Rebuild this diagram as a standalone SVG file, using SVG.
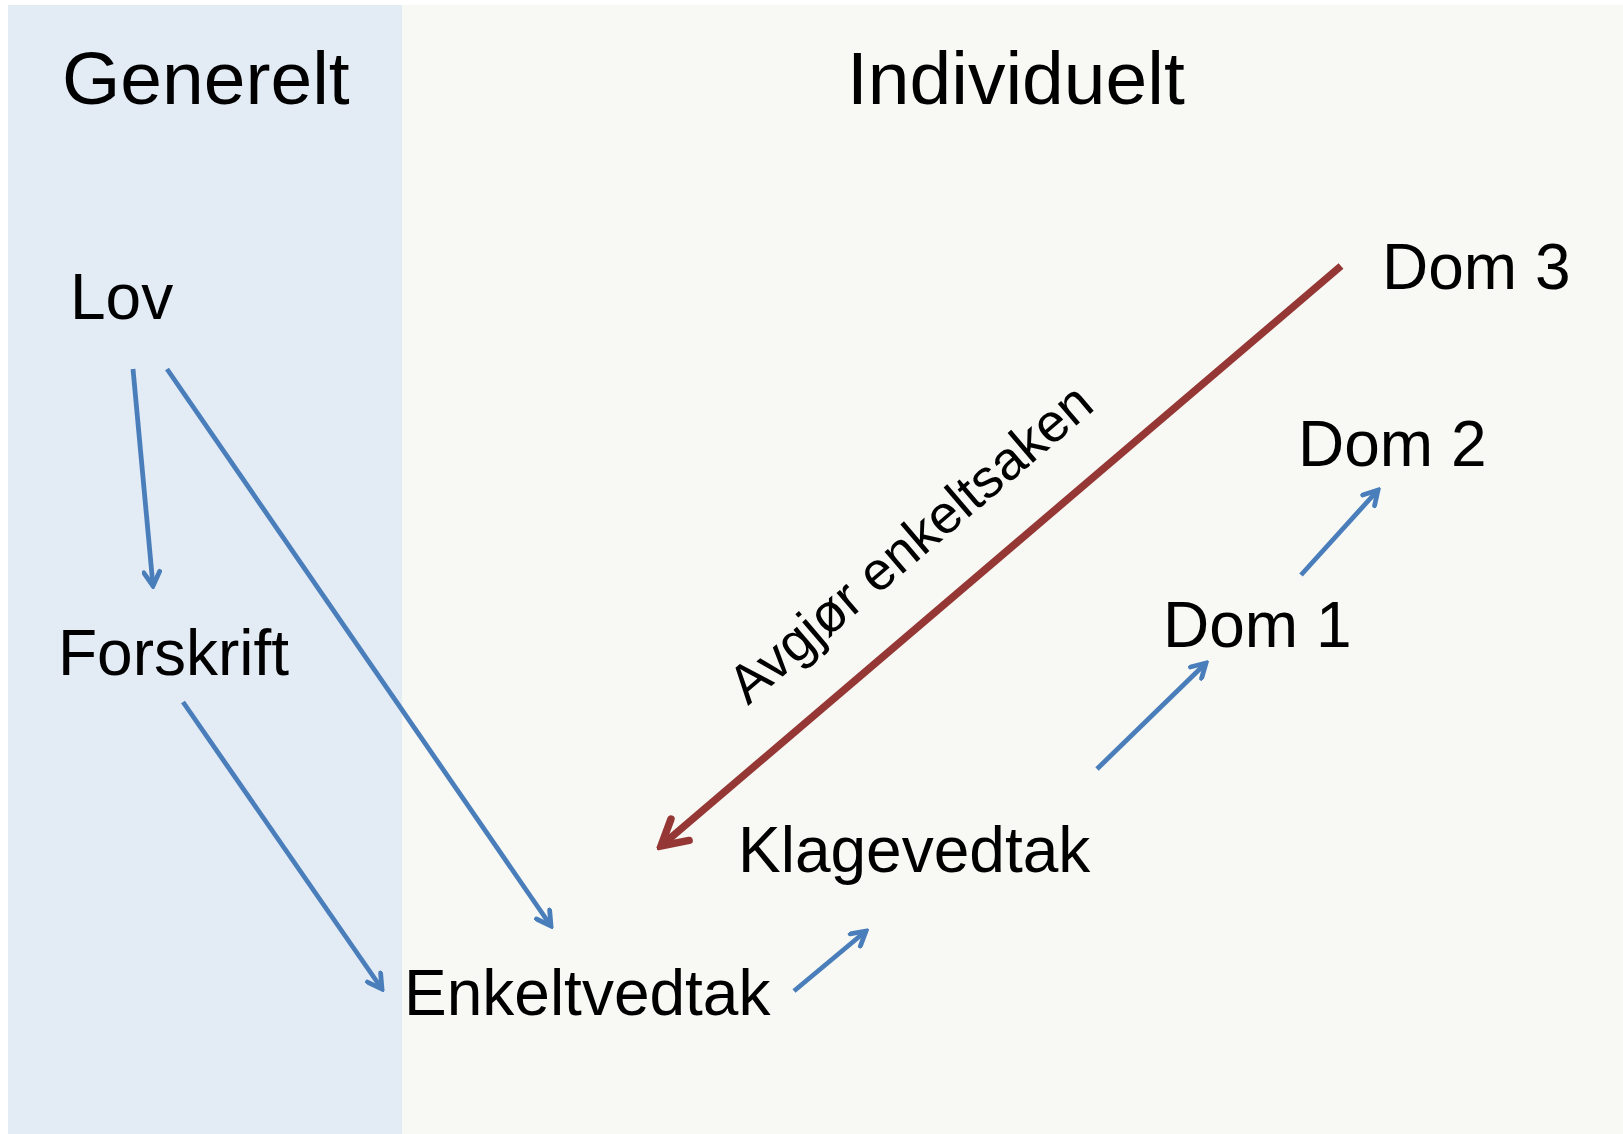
<svg xmlns="http://www.w3.org/2000/svg" width="1623" height="1134" viewBox="0 0 1623 1134">
<defs>
<style>
.t{font-family:"Liberation Sans",Arial,sans-serif;fill:#000;}
.h{font-size:75px;}
.n{font-size:64px;}
.b{stroke:#4a7ebb;stroke-width:4.8;fill:none;}
.r{stroke:#953735;stroke-width:7.5;fill:none;}
</style>
<marker id="ab" viewBox="0 0 20 20" refX="17" refY="10" markerWidth="20" markerHeight="20" markerUnits="userSpaceOnUse" orient="auto">
<path d="M3,2 L17,10 L3,18" fill="none" stroke="#4a7ebb" stroke-width="4.8" stroke-linecap="round" stroke-linejoin="miter"/>
</marker>
<marker id="ar" viewBox="0 0 36 36" refX="31" refY="18" markerWidth="36" markerHeight="36" markerUnits="userSpaceOnUse" orient="auto">
<path d="M6,4 L31,18 L6,32" fill="none" stroke="#953735" stroke-width="7.5" stroke-linecap="round" stroke-linejoin="miter"/>
</marker>
</defs>
<rect x="0" y="0" width="1623" height="1134" fill="#ffffff"/>
<rect id="panel-generelt" x="8" y="5" width="394" height="1129" fill="#e3ebf5"/>
<rect id="panel-individuelt" x="402" y="5" width="1221" height="1129" fill="#f8f9f5"/>
<g id="header-generelt"><text class="t h" x="62" y="104">Generelt</text></g>
<g id="header-individuelt"><text class="t h" x="847" y="104">Individuelt</text></g>
<g id="lov"><text class="t n" x="70" y="319">Lov</text></g>
<g id="forskrift"><text class="t n" x="58" y="675">Forskrift</text></g>
<g id="enkeltvedtak"><text class="t n" x="404" y="1015">Enkeltvedtak</text></g>
<g id="klagevedtak"><text class="t n" x="738" y="872">Klagevedtak</text></g>
<g id="dom1"><text class="t n" x="1163" y="647">Dom 1</text></g>
<g id="dom2"><text class="t n" x="1298" y="466">Dom 2</text></g>
<g id="dom3"><text class="t n" x="1382" y="289">Dom 3</text></g>
<g id="connectors">
<line class="b" x1="133" y1="369" x2="153" y2="586" marker-end="url(#ab)"/>
<line class="b" x1="167" y1="369" x2="551" y2="926" marker-end="url(#ab)"/>
<line class="b" x1="183" y1="702" x2="382" y2="989" marker-end="url(#ab)"/>
<line class="b" x1="794" y1="991" x2="866" y2="931" marker-end="url(#ab)"/>
<line class="b" x1="1097" y1="769" x2="1206" y2="663" marker-end="url(#ab)"/>
<line class="b" x1="1301" y1="575" x2="1378" y2="490" marker-end="url(#ab)"/>
<line class="r" x1="1341" y1="266" x2="661" y2="846" marker-end="url(#ar)"/>
<text class="t" font-size="54" x="748" y="706" transform="rotate(-40.5 748 706)">Avgjør enkeltsaken</text>
</g>
</svg>
